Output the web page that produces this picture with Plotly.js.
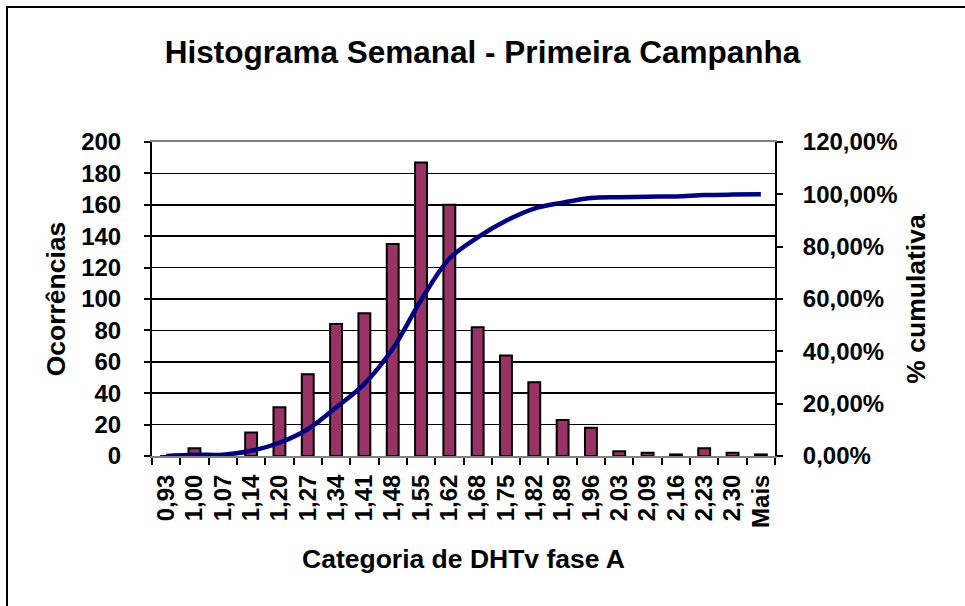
<!DOCTYPE html>
<html>
<head>
<meta charset="utf-8">
<script src="https://cdn.plot.ly/plotly-3.0.1.min.js"></script>
<style>
  html, body { margin: 0; padding: 0; background: #fff; }
  #chart { width: 965px; height: 606px; }
  #frame { position: absolute; left: 6px; top: 6px; width: 959px; height: 600px;
           border-top: 2px solid #000; border-left: 2px solid #000; pointer-events: none; }
</style>
</head>
<body>
<div id="chart"></div>
<div id="frame"></div>
<script>
// Data
const categories = ["0,93","1,00","1,07","1,14","1,20","1,27","1,34","1,41","1,48","1,55","1,62",
                    "1,68","1,75","1,82","1,89","1,96","2,03","2,09","2,16","2,23","2,30","Mais"];
const occurrences = [0, 5, 0, 15, 31, 52, 84, 91, 135, 187, 160,
                     82, 64, 47, 23, 18, 3, 2, 1, 5, 2, 1];
const cumulative = [0.0000, 0.0050, 0.0050, 0.0198, 0.0506, 0.1022, 0.1855, 0.2758, 0.4097, 0.5952, 0.7540,
                    0.8353, 0.8988, 0.9454, 0.9683, 0.9861, 0.9891, 0.9911, 0.9921, 0.9970, 0.9990, 1.0000];

const FONT = '"Liberation Sans", Arial, Helvetica, sans-serif';

const traces = [
  {
    type: 'bar',
    x: categories,
    y: occurrences,
    name: 'Frequência',
    marker: { color: '#993366', line: { color: '#000000', width: 2 } },
    yaxis: 'y'
  },
  {
    type: 'scatter',
    mode: 'lines',
    x: categories,
    y: cumulative,
    name: '% cumulativa',
    line: { color: '#000080', width: 4.5, shape: 'spline', smoothing: 1 },
    yaxis: 'y2'
  }
];

const layout = {
  width: 965,
  height: 606,
  margin: { l: 152, r: 190, t: 142, b: 150, pad: 0 },
  paper_bgcolor: '#ffffff',
  plot_bgcolor: '#ffffff',
  showlegend: false,
  separators: ', ',
  bargap: 0.58,
  font: { family: FONT, color: '#000000', size: 24, weight: 'bold' },
  title: {
    text: 'Histograma Semanal - Primeira Campanha',
    font: { family: FONT, size: 31.5, color: '#000000', weight: 'bold' },
    xref: 'container', yref: 'container',
    x: 0.5, xanchor: 'center',
    y: 1 - 52 / 606, yanchor: 'middle'
  },
  xaxis: {
    type: 'category',
    tickmode: 'linear', tick0: 0, dtick: 1,
    tickangle: -90,
    tickson: 'boundaries',
    ticks: 'outside', ticklen: 7, tickwidth: 2, tickcolor: '#000000',
    showline: true, linecolor: '#808080', linewidth: 2, mirror: true,
    showgrid: false, zeroline: false,
    tickfont: { family: FONT, size: 24, color: '#000000', weight: 'bold' },
    ticklabelstandoff: 7,
    title: { text: 'Categoria de DHTv fase A', standoff: 22,
             font: { family: FONT, size: 26.5, color: '#000000', weight: 'bold' } },
    automargin: false
  },
  yaxis: {
    range: [0, 200], dtick: 20, tick0: 0,
    ticks: 'outside', ticklen: 6, tickwidth: 2, tickcolor: '#000000',
    showline: true, linecolor: '#000000', linewidth: 2,
    showgrid: true, gridcolor: '#000000', gridwidth: 1.5,
    zeroline: false,
    tickfont: { family: FONT, size: 24, color: '#000000', weight: 'bold' },
    ticklabelstandoff: 18,
    title: { text: 'Ocorrências', standoff: 8,
             font: { family: FONT, size: 26.5, color: '#000000', weight: 'bold' } },
    automargin: false
  },
  yaxis2: {
    overlaying: 'y', side: 'right',
    range: [0, 1.2], dtick: 0.2, tick0: 0,
    tickformat: '.2%',
    ticks: 'outside', ticklen: 6, tickwidth: 2, tickcolor: '#000000',
    showline: true, linecolor: '#000000', linewidth: 2,
    showgrid: false, zeroline: false,
    tickfont: { family: FONT, size: 24, color: '#000000', weight: 'bold' },
    ticklabelstandoff: 15,
    title: { text: '% cumulativa', standoff: 10,
             font: { family: FONT, size: 26.5, color: '#000000', weight: 'bold' } },
    automargin: false
  }
};

Plotly.newPlot('chart', traces, layout, { displayModeBar: false, staticPlot: true });
</script>
</body>
</html>
